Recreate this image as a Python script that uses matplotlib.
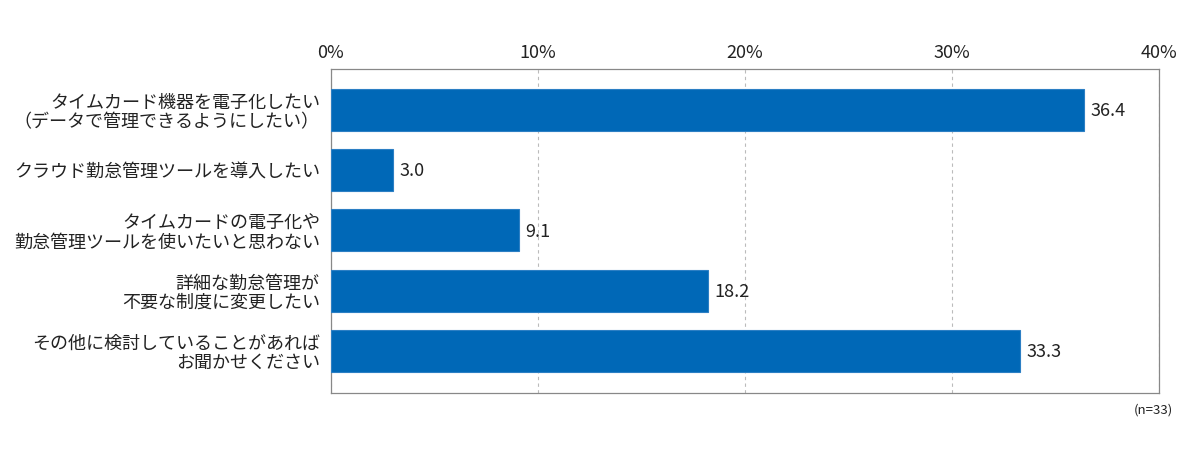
import matplotlib
matplotlib.use("Agg")
import matplotlib.pyplot as plt

plt.rcParams['font.family'] = ['Noto Sans CJK JP', 'DejaVu Sans']

categories = [
    "タイムカード機器を電子化したい\n（データで管理できるようにしたい）",
    "クラウド勤怠管理ツールを導入したい",
    "タイムカードの電子化や\n勤怠管理ツールを使いたいと思わない",
    "詳細な勤怠管理が\n不要な制度に変更したい",
    "その他に検討していることがあれば\nお聞かせください",
]
values = [36.4, 3.0, 9.1, 18.2, 33.3]
xticks = [0, 10, 20, 30, 40]
xtick_labels = ["0%", "10%", "20%", "30%", "40%"]
note = "(n=33)"

fig = plt.figure(figsize=(12, 4.61), dpi=100)
ax = fig.add_axes([0.2758, 0.1475, 0.69, 0.7028])

ypos = list(range(len(categories)))
ax.barh(ypos, values, height=0.70, color="#0068B7", edgecolor="#2C7FC4", linewidth=0.8, zorder=3)
for y, v in zip(ypos, values):
    ax.text(v + 0.3, y + 0.02, f"{v:.1f}", va="center", ha="left", fontsize=13, color="#222222")

ax.set_xlim(0, 40)
ax.set_ylim(4.7, -0.68)
ax.set_yticks(ypos)
ax.set_yticklabels(categories, fontsize=13, color="#222222", linespacing=1.1)
ax.set_xticks(xticks)
ax.set_xticklabels(xtick_labels, fontsize=13, color="#222222")
ax.xaxis.tick_top()
ax.tick_params(axis="both", length=0)
ax.tick_params(axis="x", pad=5)
ax.tick_params(axis="y", pad=8)
ax.grid(axis="x", linestyle=(0, (3, 3)), color="#BBBBBB", linewidth=0.8, zorder=0)
for s in ax.spines.values():
    s.set_color("#888888")
    s.set_linewidth(0.9)

fig.text(1173/1200, 1 - 410/461, note, ha="right", va="center", fontsize=9.5, color="#222222")

fig.savefig("out.png", dpi=100, facecolor="white")
